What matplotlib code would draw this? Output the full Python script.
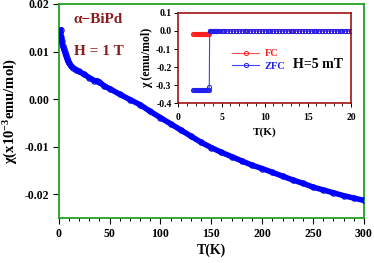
import numpy as np
import matplotlib
matplotlib.use('Agg')
import matplotlib.pyplot as plt
from matplotlib.ticker import MultipleLocator, FixedLocator, FixedFormatter

plt.rcParams.update({'font.family': 'Liberation Serif', 'font.weight': 'bold',
                     'axes.unicode_minus': False,
                     'mathtext.fontset': 'custom',
                     'mathtext.rm': 'Liberation Serif:bold',
                     'mathtext.it': 'Liberation Serif:italic:bold',
                     'mathtext.bf': 'Liberation Serif:bold'})

# ---- main curve, H = 1 T ----
t_main = [1.8, 2.5, 3, 4, 5, 6, 7, 8, 9, 10, 12, 14, 17, 20, 25, 30, 35, 38, 40,
          45, 50, 60, 70, 80, 90, 100, 110, 120, 130, 140, 150, 160, 170, 180,
          190, 200, 210, 220, 230, 240, 250, 260, 270, 280, 290, 300]
chi_main = [0.0145, 0.0130, 0.0122, 0.0112, 0.0105, 0.0099, 0.0092, 0.0086,
            0.0080, 0.0076, 0.0070, 0.0066, 0.0062, 0.0058, 0.0052, 0.0045,
            0.0039, 0.0038, 0.0036, 0.0027, 0.0022, 0.0010, -0.0001, -0.0012,
            -0.0026, -0.0039, -0.0052, -0.0065, -0.0078, -0.0091, -0.0102,
            -0.0112, -0.0121, -0.0130, -0.0139, -0.0146, -0.0154, -0.0162,
            -0.0170, -0.0177, -0.0185, -0.0191, -0.0197, -0.0203, -0.0208,
            -0.0213]

# ---- inset, H = 5 mT ----
t_low = [1.7, 1.8, 1.9, 2.0, 2.1, 2.2, 2.3, 2.4, 2.5, 2.6, 2.7, 2.8, 2.9, 3.0,
         3.1, 3.2, 3.3, 3.4, 3.5]
t_high = [3.7, 3.8, 3.9, 4.0, 4.1, 4.2, 4.3, 4.4, 4.5, 4.67, 5.0, 5.33, 5.67,
          6.0, 6.33, 6.67, 7.0, 7.33, 7.67, 8.0, 8.33, 8.67, 9.0, 9.33, 9.67,
          10.0, 10.33, 10.67, 11.0, 11.33, 11.67, 12.0, 12.33, 12.67, 13.0,
          13.33, 13.67, 14.0, 14.33, 14.67, 15.0, 15.33, 15.67, 16.0, 16.33,
          16.67, 17.0, 17.33, 17.67, 18.0, 18.33, 18.67, 19.0, 19.33, 19.67, 20.0]
fc_low = [-0.014] * len(t_low)
zfc_low = [-0.325] * len(t_low)
t_step = [3.58, 3.62]
zfc_step = [-0.308, -0.002]
chi_high = [0.0] * len(t_high)

fig = plt.figure(figsize=(3.74, 2.63), dpi=100)
ax = fig.add_axes([0.157, 0.171, 0.816, 0.814])

ax.plot(t_main, chi_main, '-', color='#0000ff', lw=4.0, zorder=3)
ax.plot(t_main, chi_main, 'o', mec='#0000ff', mfc='none', ms=3.8, mew=0.8, zorder=4)
ax.set_xlim(0, 300)
ax.set_ylim(-0.025, 0.02)
ax.xaxis.set_major_locator(MultipleLocator(50))
ax.xaxis.set_minor_locator(MultipleLocator(10))
ax.yaxis.set_major_locator(FixedLocator([-0.02, -0.01, 0.0, 0.01, 0.02]))
ax.yaxis.set_major_formatter(FixedFormatter(['-0.02', '-0.01', '0.00', '0.01', '0.02']))
ax.tick_params(which='major', direction='out', length=4, width=0.8, labelsize=8.5, pad=3)
ax.tick_params(which='minor', direction='out', length=2.5, width=0.7)
for s in ax.spines.values():
    s.set_color('#22a022')
    s.set_linewidth(1.3)
ax.set_xlabel('T(K)', fontsize=10, fontweight='bold', labelpad=3)
ax.set_ylabel(r'χ(x10$^{-3}$emu/mol)', fontsize=10.5, fontweight='bold', labelpad=3)

ax.text(14.8, 0.0168, 'α−BiPd', color='#8b1c1c', fontsize=11, fontweight='bold', va='center')
ax.text(14.8, 0.0100, 'H = 1 T', color='#8b1c1c', fontsize=11, fontweight='bold', va='center')

# inset
ax2 = fig.add_axes([0.477, 0.607, 0.4615, 0.344])
ax2.plot(t_low + t_high, fc_low + chi_high, '-', color='#ff5050', lw=0.8,
         marker='o', mfc='none', mec='#ff2020', ms=3, mew=0.7, label='FC')
ax2.plot(t_low + t_step + t_high, zfc_low + zfc_step + chi_high, '-', color='#4040ff',
         lw=0.8, marker='o', mfc='none', mec='#2020ee', ms=3, mew=0.7, label='ZFC')
ax2.set_xlim(0, 20)
ax2.set_ylim(-0.4, 0.1)
ax2.xaxis.set_major_locator(MultipleLocator(5))
ax2.xaxis.set_minor_locator(MultipleLocator(1))
ax2.yaxis.set_major_locator(MultipleLocator(0.1))
ax2.yaxis.set_major_formatter(FixedFormatter(['', '-0.4', '-0.3', '-0.2', '-0.1', '0.0', '0.1']))
ax2.tick_params(which='major', direction='out', length=3, width=0.7, labelsize=7, pad=2)
ax2.tick_params(axis='x', which='major', pad=4)
ax2.tick_params(which='minor', direction='out', length=2, width=0.6)
for s in ax2.spines.values():
    s.set_color('#990000')
    s.set_linewidth(1.1)
ax2.set_xlabel('T(K)', fontsize=8, fontweight='bold', labelpad=4)
ax2.set_ylabel('χ (emu/mol)', fontsize=8.5, fontweight='bold', labelpad=2)
leg = ax2.legend(loc='upper left', bbox_to_anchor=(0.27, 0.68), frameon=False,
                 prop={'size': 7.5, 'weight': 'bold'}, handlelength=2.6, numpoints=1,
                 handletextpad=0.5, labelspacing=0.3, borderpad=0.2)
leg.get_texts()[0].set_color('#ff2020')
leg.get_texts()[1].set_color('#2020ee')
ax2.text(0.664, 0.424, 'H=5 mT', transform=ax2.transAxes, fontsize=10,
         fontweight='bold', va='center')

for a in (ax, ax2):
    for lab in a.get_xticklabels() + a.get_yticklabels():
        lab.set_fontweight('bold')

fig.savefig('out.png', dpi=100)
